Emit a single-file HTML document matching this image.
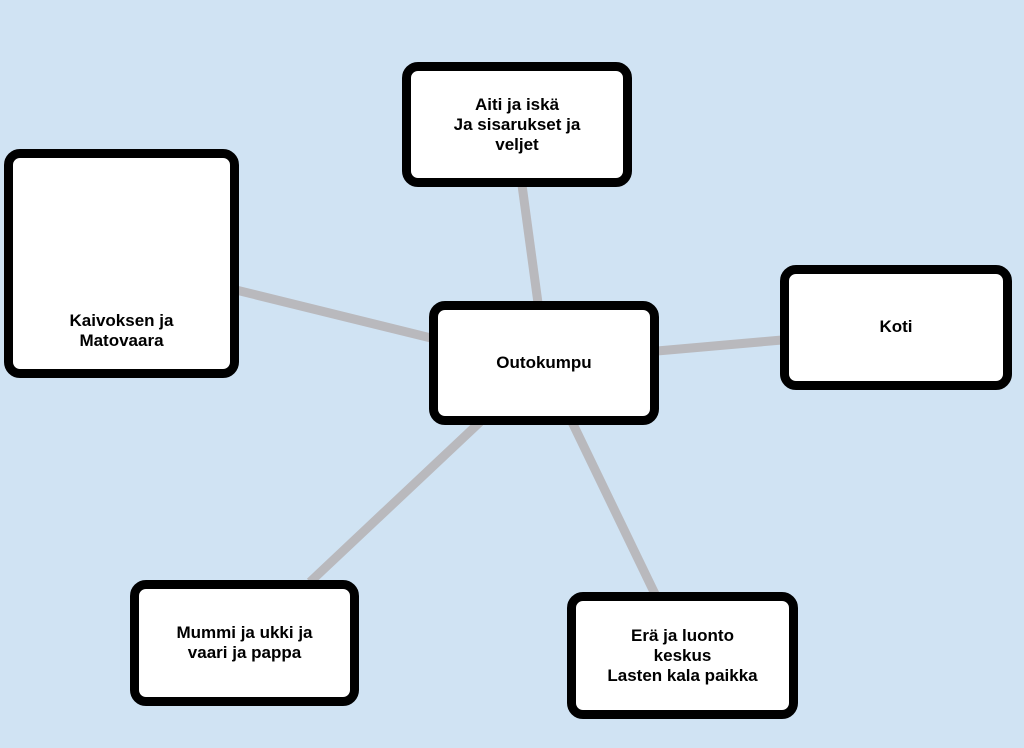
<!DOCTYPE html>
<html><head><style>
body{margin:0;width:1024px;height:748px;background:#d0e3f3;position:relative;overflow:hidden;font-family:"Liberation Sans",sans-serif}
.b{position:absolute;box-sizing:border-box;background:#fff;border:9px solid #000;border-radius:16px;display:flex;align-items:center;justify-content:center;text-align:center;font-weight:bold;font-size:17px;line-height:20px;color:#000}
svg{position:absolute;left:0;top:0}
</style></head><body>
<svg width="1024" height="748"><g stroke="#b9b9bd" stroke-width="9" stroke-linecap="butt">
<line x1="522" y1="185" x2="538" y2="303"/>
<line x1="236" y1="290" x2="431" y2="338"/>
<line x1="782" y1="340" x2="657" y2="351"/>
<line x1="310" y1="582" x2="480" y2="422"/>
<line x1="655" y1="594" x2="572" y2="422"/>
</g></svg>
<div class="b" style="left:402px;top:62px;width:230px;height:125px">Aiti ja iskä<br>Ja sisarukset ja<br>veljet</div>
<div class="b" style="left:4px;top:149px;width:235px;height:229px;align-items:flex-end;padding-bottom:18px">Kaivoksen ja<br>Matovaara</div>
<div class="b" style="left:429px;top:301px;width:230px;height:124px">Outokumpu</div>
<div class="b" style="left:780px;top:265px;width:232px;height:125px;padding-bottom:2px">Koti</div>
<div class="b" style="left:130px;top:580px;width:229px;height:126px">Mummi ja ukki ja<br>vaari ja pappa</div>
<div class="b" style="left:567px;top:592px;width:231px;height:127px">Erä ja luonto<br>keskus<br>Lasten kala paikka</div>
</body></html>
